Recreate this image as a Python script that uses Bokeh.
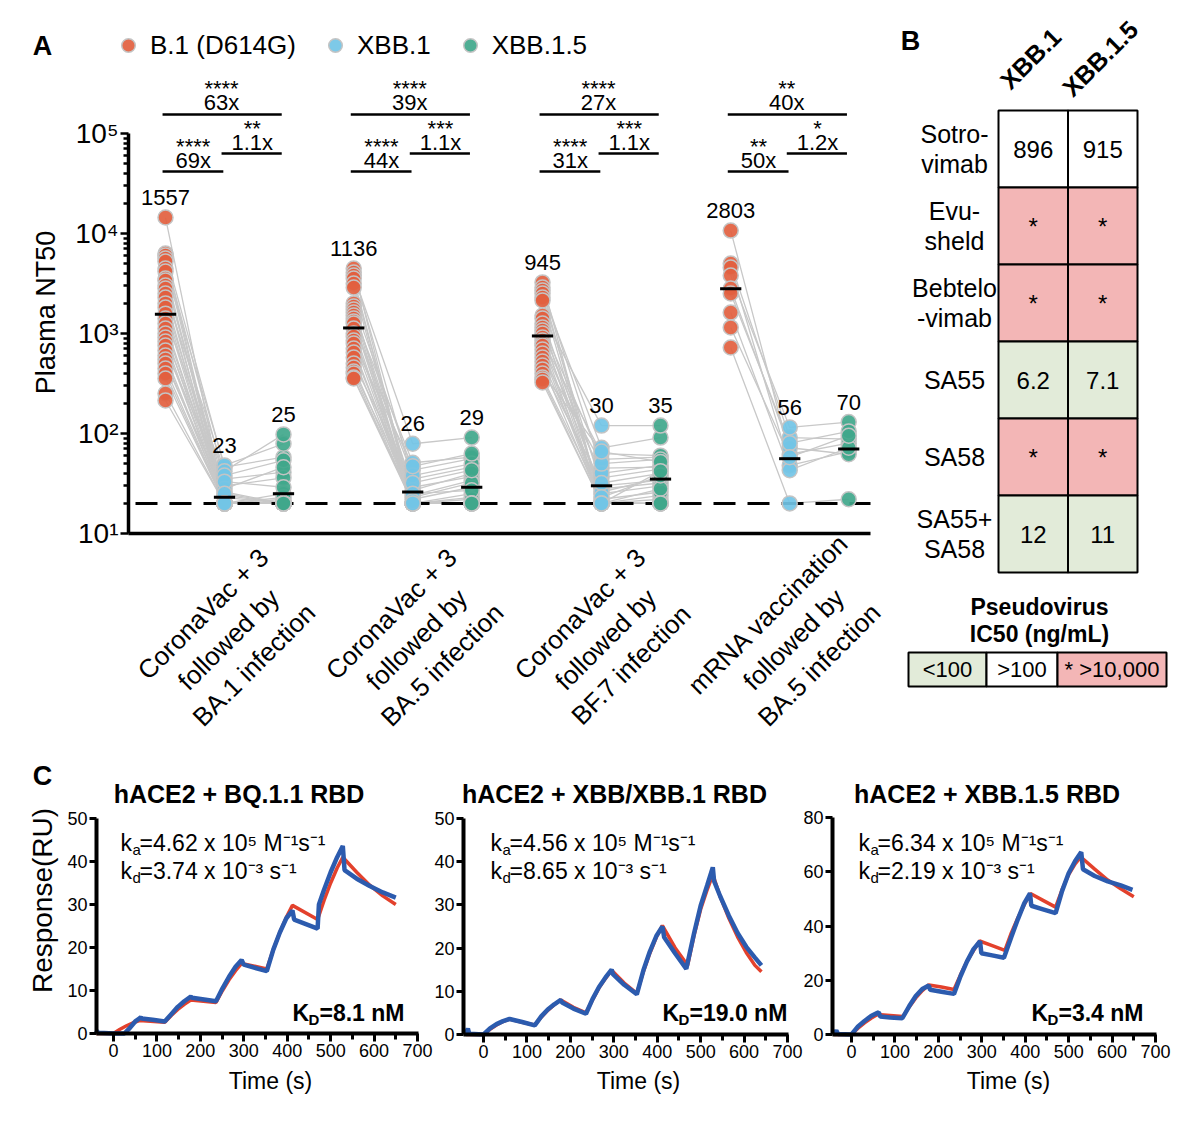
import math
from bokeh.plotting import figure
from bokeh.models import (Range1d, FixedTicker, Label, Legend, LegendItem, LinearAxis, LogAxis,
                          CustomJSTickFormatter)
from bokeh.layouts import column, row
from bokeh.embed import file_html
from bokeh.resources import INLINE
from bokeh.core.properties import value

FONT = "Liberation Sans"

# ======================= Panel A data =======================
cohorts = ["CoronaVac + 3\nfollowed by\nBA.1 infection",
           "CoronaVac + 3\nfollowed by\nBA.5 infection",
           "CoronaVac + 3\nfollowed by\nBF.7 infection",
           "mRNA vaccination\nfollowed by\nBA.5 infection"]
variants = ["B.1 (D614G)", "XBB.1", "XBB.1.5"]
variant_colors = ["#E2603F", "#72C4E6", "#40A78B"]

ba1_b1 = [14450, 6310, 6030, 5620, 5250, 4470, 4170, 3550, 3390, 3020, 2820, 2510, 2290, 2000, 1820, 1580,
          1410, 1260, 1120, 1000, 912, 832, 759, 676, 603, 550, 501, 447, 398, 355, 251, 214]
ba1_xbb1 = [20, 46, 20, 35, 20, 48, 20, 26, 30, 20, 20, 42, 20, 24, 20, 20, 38, 20, 23, 20, 28, 20, 20, 33,
            20, 20, 25, 20, 20, 20, 20, 20]
ba1_xbb15 = [22, 58, 20, 41, 20, 79, 20, 20, 36, 20, 25, 98, 20, 20, 20, 20, 54, 20, 20, 23, 46, 20, 20, 29,
             20, 20, 20, 20, 20, 20, 20, 20]

ba5_b1 = [4470, 4070, 3800, 3550, 3160, 2880, 2000, 1860, 1740, 1620, 1510, 1410, 1320, 1260, 1120, 1000,
          933, 851, 794, 708, 646, 575, 501, 457, 417, 398, 363, 355]
ba5_xbb1 = [20, 35, 79, 20, 24, 20, 43, 20, 29, 20, 51, 20, 22, 38, 20, 20, 27, 20, 47, 20, 23, 20, 32, 20,
            25, 20, 21, 20]
ba5_xbb15 = [20, 46, 91, 23, 34, 20, 56, 20, 37, 20, 58, 20, 29, 50, 20, 25, 40, 20, 63, 20, 32, 22, 43, 20,
             27, 20, 20, 20]

bf7_b1 = [3240, 2880, 2690, 2510, 2290, 2140, 1510, 1410, 1260, 1150, 1070, 1000, 912, 851, 794, 759, 692,
          631, 575, 525, 479, 437, 398, 363, 347, 324]
bf7_xbb1 = [20, 45, 20, 72, 30, 20, 120, 25, 20, 55, 36, 20, 28, 63, 20, 40, 22, 20, 50, 26, 20, 32, 66, 23,
            20, 20]
bf7_xbb15 = [22, 46, 20, 91, 34, 20, 120, 30, 24, 58, 44, 20, 32, 60, 20, 48, 26, 20, 55, 36, 28, 40, 52, 38,
             42, 20]

mrna_b1 = [10700, 5010, 4570, 3800, 2820, 2510, 1620, 1150, 724]
mrna_xbb1 = [62, 91, 48, 115, 72, 80, 43, 58, 20]
mrna_xbb15 = [80, 88, 66, 130, 62, 105, 72, 95, 22]

gm_nt50 = [[1557, 23, 25], [1136, 26, 29], [945, 30, 35], [2803, 56, 70]]
fold_b1_xbb15 = ["63x", "39x", "27x", "40x"]
p_b1_xbb15 = ["****", "****", "****", "**"]
fold_b1_xbb1 = ["69x", "44x", "31x", "50x"]
p_b1_xbb1 = ["****", "****", "****", "**"]
fold_xbb1_xbb15 = ["1.1x", "1.1x", "1.1x", "1.2x"]
p_xbb1_xbb15 = ["**", "***", "***", "*"]
lod_nt50 = 20
nt50_ticks = [10, 100, 1000, 10000, 100000]

# ======================= Panel B data =======================
mabs = ["Sotro-\nvimab", "Evu-\nsheld", "Bebtelo\n-vimab", "SA55", "SA58", "SA55+\nSA58"]
pv_variants = ["XBB.1", "XBB.1.5"]
ic50_xbb1 = ["896", "*", "*", "6.2", "*", "12"]
ic50_xbb15 = ["915", "*", "*", "7.1", "*", "11"]
ic50_class = ["mid", "high", "high", "low", "high", "low"]
class_colors = {"low": "#E2EBD9", "mid": "#FFFFFF", "high": "#F3B6B6"}
key_labels = ["<100", ">100", "* >10,000"]
key_classes = ["low", "mid", "high"]

# ======================= Panel C data =======================
c_titles = ["hACE2  + BQ.1.1 RBD", "hACE2 + XBB/XBB.1 RBD", "hACE2  + XBB.1.5 RBD"]
c_ka = ["4.62", "4.56", "6.34"]
c_kd = ["3.74", "8.65", "2.19"]
c_KD = ["8.1", "19.0", "3.4"]
c_ymax = [50, 50, 80]
c_ystep = [10, 10, 20]

c1_fit_t = [-40, 0, 15, 30, 45, 60, 118, 133, 148, 163, 178, 236, 251, 266, 281, 295, 353, 368, 383, 398,
            412, 470, 485, 500, 515, 528, 560, 590, 620, 650]
c1_fit_ru = [0, 0, 1.0, 1.8, 2.5, 3.0, 2.6, 4.2, 5.6, 6.8, 7.8, 7.2, 10.0, 12.5, 14.6, 16.3, 15.0, 19.5,
             23.5, 27.0, 29.8, 26.5, 31.0, 35.0, 38.5, 41.0, 37.5, 34.5, 32.0, 30.0]
c1_obs_t = [-40, -37, -33, 0, 25, 35, 50, 60, 63, 65, 90, 118, 133, 148, 163, 178, 181, 236, 251, 266, 281,
            295, 300, 353, 368, 383, 398, 412, 416, 470, 473, 485, 500, 515, 528, 532, 560, 590, 620, 650]
c1_obs_ru = [0.8, 0.3, 0.2, 0, 0, 1.0, 2.8, 3.5, 3.8, 3.5, 3.2, 2.8, 4.5, 6.2, 7.5, 8.6, 8.3, 7.5, 10.5,
             13.2, 15.5, 17.1, 16.0, 14.5, 19.5, 23.5, 26.8, 28.6, 26.5, 24.4, 30.0, 33.5, 37.5, 41.0, 43.6,
             38.0, 36.0, 34.3, 32.8, 31.6]

c2_fit_t = [-40, 0, 15, 30, 45, 60, 89, 118, 133, 148, 163, 178, 207, 236, 251, 266, 281, 295, 324, 353,
            368, 383, 398, 412, 441, 470, 485, 500, 515, 528, 545, 565, 585, 605, 625, 640]
c2_fit_ru = [0, 0, 1.2, 2.2, 3.0, 3.6, 2.8, 2.2, 4.0, 5.6, 6.9, 8.0, 6.3, 5.0, 8.0, 10.8, 13.0, 14.9, 11.9,
             9.5, 14.5, 18.8, 22.5, 25.2, 20.1, 16.0, 23.0, 29.0, 33.5, 37.0, 31.9, 26.9, 22.6, 19.0, 16.0,
             14.5]
c2_obs_t = [-40, -36, -33, 0, 15, 30, 45, 60, 89, 118, 133, 148, 163, 178, 181, 207, 236, 251, 266, 281,
            295, 298, 324, 353, 368, 383, 398, 412, 416, 441, 467, 485, 500, 515, 528, 531, 545, 565, 585,
            605, 625, 640]
c2_obs_ru = [0.3, 1.4, 0.2, 0, 1.4, 2.4, 3.1, 3.6, 2.9, 2.1, 4.2, 5.8, 7.0, 8.0, 7.4, 6.0, 4.8, 8.2, 11.0,
             13.2, 15.0, 14.0, 11.5, 9.3, 14.8, 19.2, 22.8, 25.0, 22.5, 18.8, 15.2, 23.5, 29.8, 34.5, 38.7,
             35.5, 32.0, 27.5, 23.5, 20.3, 17.8, 16.0]

c3_fit_t = [-40, 0, 15, 30, 45, 60, 89, 118, 133, 148, 163, 178, 207, 236, 251, 266, 281, 295, 324, 353,
            368, 383, 398, 412, 441, 470, 485, 500, 515, 528, 560, 590, 620, 650]
c3_fit_ru = [0, 0, 2.3, 4.3, 6.0, 7.4, 7.0, 6.6, 10.2, 13.5, 16.2, 18.3, 17.5, 16.6, 22.0, 27.0, 31.0, 34.5,
             32.8, 31.0, 37.5, 43.0, 48.0, 52.0, 49.5, 47.0, 53.5, 59.0, 63.0, 65.5, 61.0, 57.0, 53.8, 50.8]
c3_obs_t = [-40, -35, -31, 0, 15, 30, 45, 60, 63, 66, 89, 117, 133, 148, 163, 178, 181, 207, 236, 251, 266,
            281, 296, 299, 324, 351, 368, 383, 398, 411, 414, 441, 470, 485, 500, 515, 529, 533, 560, 590,
            620, 647]
c3_obs_ru = [0.3, 1.5, 0.2, 0, 3.0, 5.0, 6.8, 8.0, 8.2, 6.6, 6.3, 6.0, 10.5, 14.2, 16.8, 18.1, 16.5, 15.8,
             15.0, 21.5, 27.0, 31.5, 34.4, 30.0, 29.2, 28.3, 36.0, 42.5, 48.5, 52.1, 47.5, 46.2, 44.8, 53.0,
             59.5, 64.0, 67.3, 61.0, 58.5, 56.5, 55.0, 53.4]

FIT_COLOR = "#E3412C"
OBS_COLOR = "#2C5BAE"


# ======================= helpers =======================
def lab(p, x, y, text, size, bold=False, align="center", baseline="middle", angle=0.0,
        xo=0, yo=0, lh=1.2, **kw):
    p.add_layout(Label(x=x, y=y, x_offset=xo, y_offset=yo, text=text, text_font=FONT,
                       text_font_size=f"{size}px", text_font_style="bold" if bold else "normal",
                       text_align=align, text_baseline=baseline, angle=angle, text_color="black",
                       text_line_height=lh, **kw))


def clean(p):
    p.grid.visible = False
    p.outline_line_color = None
    p.background_fill_color = "white"
    p.border_fill_color = "white"


def style_axis(ax, font_size, line_w, tick_out, minor_out, tick_w):
    ax.axis_line_width = line_w
    ax.major_tick_out = tick_out
    ax.major_tick_in = 0
    ax.minor_tick_out = minor_out
    ax.minor_tick_in = 0
    ax.major_tick_line_width = tick_w
    ax.minor_tick_line_width = tick_w
    ax.major_label_text_font = FONT
    ax.major_label_text_font_size = font_size
    ax.major_label_text_color = "black"
    ax.major_label_standoff = 2


# ======================= Panel A =======================
A_W, A_H = 900, 745


def ax_x(px):
    return (px - 165) / 59.0


def ax_y(py):
    return 10 ** (5 + (133 - py) / 100.0)


cohort_x = [0.0, 3.19, 6.39, 9.58]
groups = [(ba1_b1, ba1_xbb1, ba1_xbb15), (ba5_b1, ba5_xbb1, ba5_xbb15),
          (bf7_b1, bf7_xbb1, bf7_xbb15), (mrna_b1, mrna_xbb1, mrna_xbb15)]

pa = figure(frame_width=A_W, frame_height=A_H, min_border=0,
            x_range=Range1d(ax_x(0), ax_x(A_W)), y_range=Range1d(ax_y(A_H), ax_y(0)),
            y_axis_type="log", x_axis_location=None, y_axis_location=None,
            output_backend="svg", toolbar_location=None)
clean(pa)

xs, ys = [], []
for g, (b, v1, v15) in enumerate(groups):
    gx = cohort_x[g]
    for i in range(len(b)):
        xs.append([gx, gx + 1, gx + 2])
        ys.append([b[i], v1[i], v15[i]])
pa.multi_line(xs, ys, line_color="#C8C8C8", line_width=1.3)

# detection limit
pa.segment(x0=[ax_x(135)], x1=[ax_x(870)], y0=[lod_nt50], y1=[lod_nt50], line_color="black",
           line_width=3, line_dash="22 12")

renderers = []
for v in range(3):
    px_, py_ = [], []
    for g, grp in enumerate(groups):
        px_ += [cohort_x[g] + v] * len(grp[v])
        py_ += list(grp[v])
    r = pa.scatter(px_, py_, size=15, fill_color=variant_colors[v], fill_alpha=0.92,
                   line_color="#C4C4C4", line_width=1.5)
    renderers.append(r)

gx_, gy_, ly_, lt_ = [], [], [], []
for g, grp in enumerate(groups):
    for v in range(3):
        gx_.append(cohort_x[g] + v)
        gy_.append(gm_nt50[g][v])
        ly_.append(max(grp[v]) * 10 ** 0.2)
        lt_.append(str(gm_nt50[g][v]))
pa.rect(gx_, gy_, width=0.36, height=3, height_units="screen", fill_color="black", line_color=None)
pa.text(gx_, ly_, text=lt_, text_align="center", text_baseline="middle",
        text_font=value(FONT), text_font_size="22px", text_color="black")

b_x0, b_x1, b_y = [], [], []
t_x, t_y, t_t = [], [], []
for g, gx in enumerate(cohort_x):
    b_x0 += [gx - 0.05, gx - 0.05, gx + 0.95]
    b_x1 += [gx + 1.97, gx + 0.98, gx + 1.97]
    b_y += [10 ** 5.19, 10 ** 4.62, 10 ** 4.80]
    t_x += [gx + 0.95, gx + 0.95, gx + 0.47, gx + 0.47, gx + 1.47, gx + 1.47]
    t_y += [10 ** 5.31, 10 ** 5.45, 10 ** 4.73, 10 ** 4.87, 10 ** 4.91, 10 ** 5.05]
    t_t += [fold_b1_xbb15[g], p_b1_xbb15[g], fold_b1_xbb1[g], p_b1_xbb1[g],
            fold_xbb1_xbb15[g], p_xbb1_xbb15[g]]
pa.segment(x0=b_x0, y0=b_y, x1=b_x1, y1=b_y, line_color="black", line_width=2.5)
pa.text(t_x, t_y, text=t_t, text_align="center", text_baseline="middle",
        text_font=value(FONT), text_font_size="22px", text_color="black")

ya = LogAxis(fixed_location=ax_x(128), bounds=(nt50_ticks[0], nt50_ticks[-1]),
             ticker=FixedTicker(ticks=nt50_ticks,
                                minor_ticks=[m * t for t in nt50_ticks[:-1] for m in range(2, 10)]),
             formatter=CustomJSTickFormatter(code="""
const s = {1: '\\u00b9', 2: '\\u00b2', 3: '\\u00b3', 4: '\\u2074', 5: '\\u2075'};
return '10' + s[Math.round(Math.log10(tick))];
"""))
style_axis(ya, "28px", 3.5, 8, 5, 2.5)
pa.add_layout(ya, "left")

xa = LinearAxis(fixed_location=nt50_ticks[0], bounds=(ax_x(128), ax_x(870)), ticker=FixedTicker(ticks=[]))
xa.axis_line_width = 3.5
xa.major_tick_line_color = None
xa.minor_tick_line_color = None
xa.major_label_text_font_size = "0px"
pa.add_layout(xa, "below")

lab(pa, ax_x(45), ax_y(312), "Plasma NT50", 27, angle=math.pi / 2)
for g, name in enumerate(cohorts):
    lab(pa, cohort_x[g] + 1 + 4 / 59.0, ax_y(639), name, 26, angle=math.pi / 4, lh=1.2)

legend = Legend(items=[LegendItem(label=variants[v], renderers=[renderers[v]]) for v in range(3)],
                location=(111, A_H - 62), orientation="horizontal", glyph_width=34, glyph_height=34,
                label_standoff=5, spacing=22, padding=0, margin=0, border_line_color=None,
                background_fill_alpha=0, label_text_font=FONT, label_text_font_size="26px",
                label_text_color="black", label_height=34)
pa.add_layout(legend)

lab(pa, ax_x(42), ax_y(45), "A", 27, bold=True)

# ======================= Panel B =======================
B_X0 = A_W
B_W, B_H = 1190 - A_W, 745


def bx(px):
    return (px - 998) / 69.5


def by(py):
    return (572 - py) / 77.0


pb = figure(frame_width=B_W, frame_height=B_H, min_border=0,
            x_range=Range1d(bx(B_X0), bx(B_X0 + B_W)), y_range=Range1d(by(B_H), by(0)),
            x_axis_location=None, y_axis_location=None,
            output_backend="svg", toolbar_location=None)
clean(pb)

cell_x, cell_y, cell_c, cell_t = [], [], [], []
for c, vals in enumerate([ic50_xbb1, ic50_xbb15]):
    for r in range(len(mabs)):
        cell_x.append(c + 0.5)
        cell_y.append(len(mabs) - r - 0.5)
        cell_c.append(class_colors[ic50_class[r]])
        cell_t.append(vals[r])
pb.rect(cell_x, cell_y, width=1, height=1, fill_color=cell_c, line_color="black", line_width=2)
pb.text(cell_x, cell_y, text=cell_t, text_align="center", text_baseline="middle",
        text_font=value(FONT), text_font_size="24px", text_color="black")

for r, name in enumerate(mabs):
    lab(pb, bx(954), len(mabs) - r - 0.5, name, 25, lh=1.05)

for c, name in enumerate(pv_variants):
    lab(pb, c + 0.5 - 0.04, by(58), name, 25, bold=True, angle=math.pi / 4)

key_edges = [bx(908), bx(986), bx(1057), bx(1166)]
pb.quad(left=key_edges[:-1], right=key_edges[1:], top=[by(652)] * 3, bottom=[by(686)] * 3,
        fill_color=[class_colors[k] for k in key_classes], line_color="black", line_width=2)
pb.text([(key_edges[i] + key_edges[i + 1]) / 2 for i in range(3)], [by(669)] * 3, text=key_labels,
        text_align="center", text_baseline="middle", text_font=value(FONT), text_font_size="22px",
        text_color="black")
lab(pb, bx(1039), by(620), "Pseudovirus\nIC50 (ng/mL)", 23, bold=True, lh=1.05)
lab(pb, bx(910), by(40), "B", 27, bold=True)

# ======================= Panel C =======================
C_W, C_H, C_TOP = 1190, 365, 745
SX = 304 / 700.0
c_geom = [dict(x0=113, y0=1033, sy=4.30, axis_px=96),
          dict(x0=483, y0=1034, sy=4.32, axis_px=463),
          dict(x0=851, y0=1034, sy=2.71, axis_px=832)]
c_data = [(c1_fit_t, c1_fit_ru, c1_obs_t, c1_obs_ru),
          (c2_fit_t, c2_fit_ru, c2_obs_t, c2_obs_ru),
          (c3_fit_t, c3_fit_ru, c3_obs_t, c3_obs_ru)]
c_title_cx = [242, 614, 990]
c_k_x = [120, 490, 858]
c_KD_x = [292, 662, 1031]
c_time_cx = [270, 638, 1008]

xr_list, yr_list = [], []
for gm in c_geom:
    xr_list.append(Range1d((0 - gm["x0"]) / SX, (C_W - gm["x0"]) / SX))
    yr_list.append(Range1d((gm["y0"] - (C_TOP + C_H)) / gm["sy"], (gm["y0"] - C_TOP) / gm["sy"]))

pc = figure(frame_width=C_W, frame_height=C_H, min_border=0,
            x_range=xr_list[0], y_range=yr_list[0],
            extra_x_ranges={"t1": xr_list[1], "t2": xr_list[2]},
            extra_y_ranges={"r1": yr_list[1], "r2": yr_list[2]},
            x_axis_location=None, y_axis_location=None,
            output_backend="svg", toolbar_location=None)
clean(pc)

for i, gm in enumerate(c_geom):
    kw = {} if i == 0 else dict(x_range_name=f"t{i}", y_range_name=f"r{i}")
    ft, fr, ot, orr = c_data[i]
    pc.line(ft, fr, line_color=FIT_COLOR, line_width=3.5, **kw)
    pc.line(ot, orr, line_color=OBS_COLOR, line_width=4.5, **kw)

    t_start = (gm["axis_px"] - gm["x0"]) / SX
    xa = LinearAxis(fixed_location=0, bounds=(t_start, 702),
                    ticker=FixedTicker(ticks=list(range(0, 701, 100)), minor_ticks=list(range(50, 651, 100))),
                    **kw)
    style_axis(xa, "18px", 4, 8, 6, 3)
    pc.add_layout(xa, "below")
    ya = LinearAxis(fixed_location=t_start, bounds=(0, c_ymax[i]),
                    ticker=FixedTicker(ticks=list(range(0, c_ymax[i] + 1, c_ystep[i])), minor_ticks=[]),
                    **kw)
    style_axis(ya, "18px", 4, 7, 0, 3)
    pc.add_layout(ya, "left")

    def cx(px, gm=gm):
        return (px - gm["x0"]) / SX

    def cy(py, gm=gm):
        return (gm["y0"] - py) / gm["sy"]

    lab(pc, cx(c_title_cx[i]), cy(793), c_titles[i], 25, bold=True, **kw)
    kx = cx(c_k_x[i])
    lab(pc, kx, cy(842), "k", 23, align="left", baseline="alphabetic", **kw)
    lab(pc, kx, cy(842), "a", 15, align="left", baseline="alphabetic", xo=12, yo=-7, **kw)
    lab(pc, kx, cy(842), "=" + c_ka[i] + " x 10\u2075 M\u207b\u00b9s\u207b\u00b9", 23, align="left",
        baseline="alphabetic", xo=19, **kw)
    lab(pc, kx, cy(870), "k", 23, align="left", baseline="alphabetic", **kw)
    lab(pc, kx, cy(870), "d", 15, align="left", baseline="alphabetic", xo=12, yo=-7, **kw)
    lab(pc, kx, cy(870), "=" + c_kd[i] + " x 10\u207b\u00b3 s\u207b\u00b9", 23, align="left",
        baseline="alphabetic", xo=19, **kw)
    KDx = cx(c_KD_x[i])
    lab(pc, KDx, cy(1012), "K", 23, bold=True, align="left", baseline="alphabetic", **kw)
    lab(pc, KDx, cy(1012), "D", 15, bold=True, align="left", baseline="alphabetic", xo=16, yo=-7, **kw)
    lab(pc, KDx, cy(1012), "=" + c_KD[i] + " nM", 23, bold=True, align="left", baseline="alphabetic",
        xo=27, **kw)
    lab(pc, cx(c_time_cx[i]), cy(1080), "Time (s)", 23, **kw)
    if i == 0:
        lab(pc, cx(42), cy(900), "Response(RU)", 28, angle=math.pi / 2)
        lab(pc, cx(42), cy(775), "C", 27, bold=True)

layout = column(row(pa, pb), pc)
open("out.html", "w", encoding="utf-8").write(file_html(layout, INLINE))
